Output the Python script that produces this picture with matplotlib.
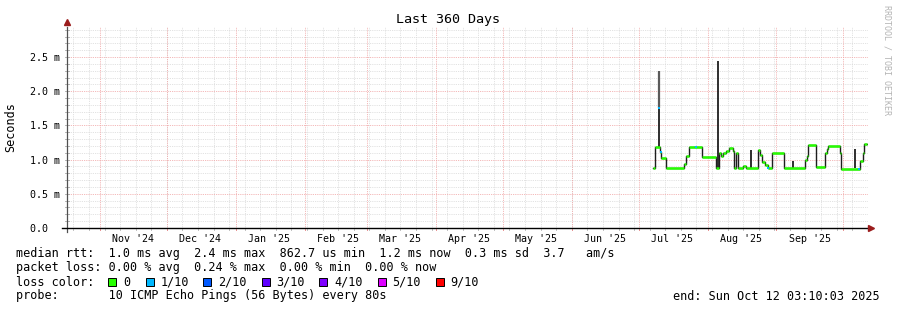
import matplotlib
matplotlib.use('Agg')
import matplotlib.pyplot as plt
import matplotlib.dates as mdates
from matplotlib.patches import Rectangle
import pandas as pd

# median rtt in ms, as steps: time of change -> new value
step_times = ['2025-07-07 12:00', '2025-07-08 10:00', '2025-07-10 12:00', '2025-07-11 00:00',
              '2025-07-13 10:00', '2025-07-21 10:00', '2025-07-22 06:00', '2025-07-23 17:00',
              '2025-07-29 12:00', '2025-08-04 19:00', '2025-08-06 05:00', '2025-08-07 00:00',
              '2025-08-08 00:00', '2025-08-09 12:00', '2025-08-10 17:00', '2025-08-12 12:00',
              '2025-08-12 22:00', '2025-08-13 19:00', '2025-08-14 17:00', '2025-08-17 00:00',
              '2025-08-18 12:00', '2025-08-23 17:00', '2025-08-24 12:00', '2025-08-25 12:00',
              '2025-08-27 00:00', '2025-08-28 05:00', '2025-08-30 00:00', '2025-09-04 10:00',
              '2025-09-13 19:00', '2025-09-14 12:00', '2025-09-15 05:00', '2025-09-18 19:00',
              '2025-09-22 19:00', '2025-09-23 12:00', '2025-09-24 05:00', '2025-09-29 14:00',
              '2025-09-30 05:00', '2025-10-08 14:00', '2025-10-09 22:00', '2025-10-10 07:00']
step_ms = [0.88, 1.19, 1.11, 1.03,
           0.88, 0.93, 1.05, 1.19,
           1.04, 0.88, 1.10, 1.06,
           1.10, 1.12, 1.17, 1.12,
           0.88, 1.10, 0.88, 0.90,
           0.88, 1.14, 1.07, 0.97,
           0.92, 0.88, 1.10, 0.88,
           1.00, 1.05, 1.22, 0.89,
           1.10, 1.15, 1.20, 1.10,
           0.87, 0.98, 1.10, 1.23]
data_end = '2025-10-11 17:00'

# short spikes of the median
spike_times = ['2025-07-10 05:00', '2025-08-05 17:00', '2025-08-20 14:00',
               '2025-09-08 10:00', '2025-10-06 07:00']
spike_low = [1.19, 0.88, 0.88, 0.88, 0.88]
spike_high = [1.75, 2.44, 1.14, 0.98, 1.15]

# smoke above the first spike
smoke_times = ['2025-07-10 05:00']
smoke_low = [1.75]
smoke_high = [2.30]

# points with 1/10 loss
loss_times = ['2025-07-10 05:00', '2025-07-11 00:00', '2025-07-26 20:00',
              '2025-08-28 05:00', '2025-10-07 21:00']
loss_ms = [1.75, 1.11, 1.19, 0.88, 0.87]

yticks = [0.0, 0.5, 1.0, 1.5, 2.0, 2.5]
ytick_labels = ['0.0  ', '0.5 m', '1.0 m', '1.5 m', '2.0 m', '2.5 m']

loss_names = ['0', '1/10', '2/10', '3/10', '4/10', '5/10', '9/10']
loss_colors = ['#26ff00', '#00b8ff', '#0059ff', '#5e00ff', '#7e00ff', '#dd00ff', '#ff0000']

end_time = pd.Timestamp('2025-10-12 03:10:03')
start_time = end_time - pd.Timedelta(days=360)

plt.rcParams['font.family'] = 'DejaVu Sans Mono'

fig = plt.figure(figsize=(8.97, 3.10), dpi=100)
W, H = 897, 310
ax = fig.add_axes([67 / W, 1 - 228 / H, 801 / W, 201 / H])
ax.set_xlim(mdates.date2num(start_time), mdates.date2num(end_time))
ax.set_ylim(0, 2.94)
for s in ax.spines.values():
    s.set_visible(False)

# grid, dotted like rrdtool
minor_c = '#d8d8d8'
major_c = '#f0a0a0'
dots = (0, (1, 1.2))
for y in [i / 10 for i in range(1, 30)]:
    if abs(y * 2 - round(y * 2)) > 1e-6:
        ax.axhline(y, color=minor_c, lw=0.6, ls=dots, zorder=0)
for y in yticks[1:]:
    ax.axhline(y, color=major_c, lw=0.6, ls=dots, zorder=1)
weeks = pd.date_range(start_time.normalize(), end_time, freq='W-SUN')
months = pd.date_range('2024-11-01', '2025-10-01', freq='MS')
for d in weeks:
    ax.axvline(mdates.date2num(d), color=minor_c, lw=0.6, ls=dots, zorder=0)
for d in months:
    ax.axvline(mdates.date2num(d), color=major_c, lw=0.6, ls=dots, zorder=1)

# ticks
ax.set_yticks(yticks)
ax.set_yticklabels(ytick_labels)
ax.tick_params(axis='y', length=0, pad=5, labelsize=7.2)
label_days = [d + pd.Timedelta(days=15) for d in months[:-1]]
ax.set_xticks([mdates.date2num(d) for d in label_days])
ax.set_xticklabels([d.strftime("%b '%y") for d in label_days])
ax.tick_params(axis='x', length=0, pad=4, labelsize=7.2)
for d in weeks:
    ax.plot([mdates.date2num(d)] * 2, [-0.025, 0.0], color='#c0c0c0', lw=0.7, clip_on=False)
for d in months:
    ax.plot([mdates.date2num(d)] * 2, [-0.025, 0.0], color='#e89090', lw=0.7, clip_on=False)
for y in [i / 10 for i in range(0, 30)]:
    ax.plot([-0.003, 0.003], [y, y], color='#a8a8a8', lw=0.6, clip_on=False,
            transform=ax.get_yaxis_transform())

# axes lines and arrows
ax.plot([0, 0], [-0.02, 1.0], color='#505050', lw=0.9, transform=ax.transAxes, clip_on=False)
ax.plot([-0.006, 1.004], [0, 0], color='black', lw=1.0, transform=ax.transAxes, clip_on=False)
ax.plot([0], [1.025], marker='^', ms=4.5, color='#9b1c1c', transform=ax.transAxes, clip_on=False)
ax.plot([1.004], [0], marker='>', ms=4.5, color='#9b1c1c', transform=ax.transAxes, clip_on=False)

# data
t = [mdates.date2num(pd.Timestamp(x)) for x in step_times + [data_end]]
v = step_ms + [step_ms[-1]]
ax.step(t, v, where='post', color='#1e1e1e', lw=1.0, zorder=3)
for i in range(len(step_ms)):
    ax.hlines(step_ms[i], t[i], t[i + 1], color=loss_colors[0], lw=1.8, zorder=4)
st = [mdates.date2num(pd.Timestamp(x)) for x in spike_times]
ax.vlines(st, spike_low, spike_high, color='#1e1e1e', lw=1.3, zorder=3)
sm = [mdates.date2num(pd.Timestamp(x)) for x in smoke_times]
ax.vlines(sm, smoke_low, smoke_high, color='#5a5a5a', lw=1.6, zorder=3)
lt = [mdates.date2num(pd.Timestamp(x)) for x in loss_times]
ax.scatter(lt, loss_ms, s=4, marker='s', color=loss_colors[1], zorder=5, linewidths=0)

# titles
fig.text(448 / W, 1 - 19 / H, 'Last 360 Days', ha='center', va='center', fontsize=9.6)
fig.text(11 / W, 1 - 127 / H, 'Seconds', ha='center', va='center', rotation=90, fontsize=8.5)
fig.text(887 / W, 1 - 5 / H, 'RRDTOOL / TOBI OETIKER', ha='center', va='top', rotation=270,
         fontsize=6, color='#b4b4b4')

# legend lines
fs = 8.5
line1 = ('median rtt:'.ljust(13) + '1.0 ms avg  2.4 ms max  862.7 us min  1.2 ms now'
         + '  0.3 ms sd  3.7   am/s')
line2 = 'packet loss:'.ljust(13) + '0.00 % avg  0.24 % max  0.00 % min  0.00 % now'
line4 = 'probe:'.ljust(13) + '10 ICMP Echo Pings (56 Bytes) every 80s'
fig.text(16 / W, 1 - 254 / H, line1, va='center', fontsize=fs)
fig.text(16 / W, 1 - 268 / H, line2, va='center', fontsize=fs)
fig.text(16 / W, 1 - 282 / H, 'loss color:', va='center', fontsize=fs)
fig.text(16 / W, 1 - 296 / H, line4, va='center', fontsize=fs)
fig.text(880 / W, 1 - 296 / H, 'end: Sun Oct 12 03:10:03 2025', ha='right', va='center', fontsize=fs)

box_x = [108, 146, 203, 262, 319, 378, 436]
text_x = [123, 161, 218, 276, 334, 392, 450]
for bx, tx, name, c in zip(box_x, text_x, loss_names, loss_colors):
    fig.patches.append(Rectangle((bx / W, 1 - 286 / H), 8 / W, 8 / H, facecolor=c,
                                 edgecolor='black', lw=0.7, transform=fig.transFigure))
    fig.text(tx / W, 1 - 282 / H, name, va='center', fontsize=fs)

fig.savefig('out.png', dpi=100, facecolor='white')
